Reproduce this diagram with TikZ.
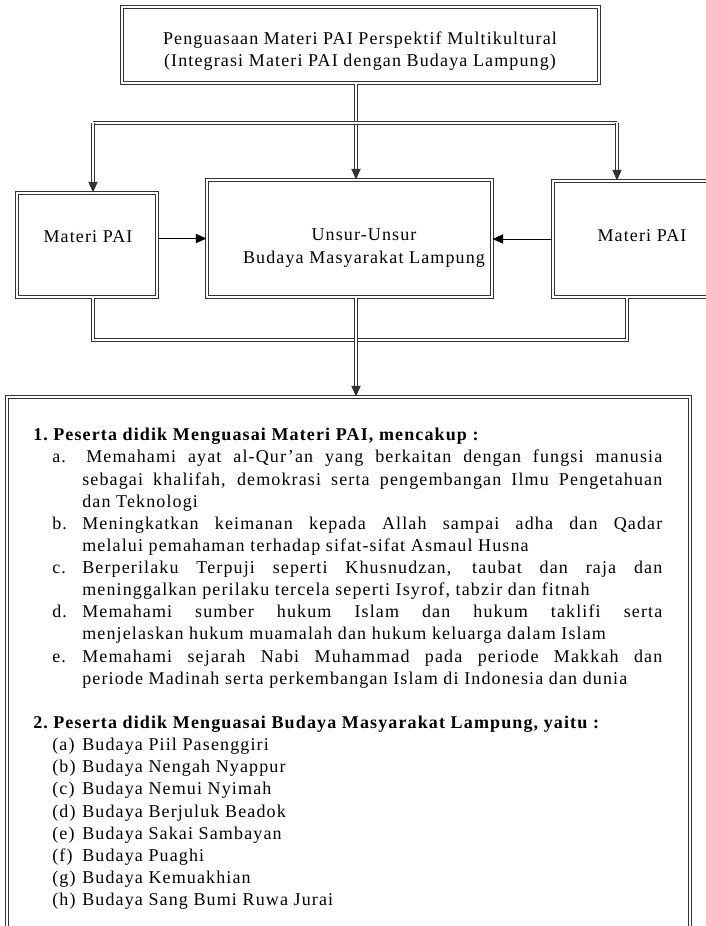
\documentclass[tikz,border=0pt]{standalone}
\usepackage{fontspec}
\setmainfont{Liberation Serif}[LetterSpace=6.3]
\usetikzlibrary{arrows.meta,calc}

\newcommand{\butir}[2]{\par\hangindent=36.75pt\hangafter=1\noindent\hspace*{14.25pt}\makebox[22.5pt][l]{#1}#2\par}

\tikzset{
  kotak/.style={draw=black!80, line width=0.85pt, double, double distance=0.9pt, inner sep=0pt},
  jalur/.style={draw=black!80, line width=0.6pt, double, double distance=1.1pt},
  panah/.style={-{Triangle[width=7pt,length=8pt]}},
  teks/.style={font=\fontsize{13.5}{16.6}\selectfont, align=center, inner sep=0pt}
}

\begin{document}
\begin{tikzpicture}[x=0.75pt,y=-0.75pt]
\useasboundingbox (0,0) rectangle (706,926);

\node[kotak, minimum width=357.75pt, minimum height=57pt] (atas) at (360.5,45) {};
\node[kotak, minimum width=105pt, minimum height=78pt] (kiri) at (87,245) {};
\node[kotak, minimum width=213.75pt, minimum height=87.75pt] (tengah) at (349.5,238.5) {};
\node[kotak, minimum width=133.5pt, minimum height=87pt] (kanan) at (642,239) {};
\node[kotak, minimum width=512.25pt, minimum height=424.5pt] (bawah) at (348.5,680) {};

\node[teks] (judul) at (360,51) {Penguasaan Materi PAI Perspektif Multikultural\\(Integrasi Materi PAI dengan Budaya Lampung)};
\node[teks] (teksKiri) at (88,237) {Materi PAI};
\node[teks] (teksTengah) at (364,248) {Unsur-Unsur\\Budaya Masyarakat Lampung};
\node[teks] (teksKanan) at (642,236) {Materi PAI};

\coordinate (poros) at (356,123);
\coordinate (cabangKiri) at (93,123);
\coordinate (cabangKanan) at (617,123);
\coordinate (bawahKiri) at (93,340);
\coordinate (bawahKanan) at (627,340);

\draw[jalur, panah] (atas.south -| poros) -- (poros |- tengah.north);
\draw[jalur] (cabangKiri) -- (cabangKanan);
\draw[jalur, panah] (cabangKiri) -- (cabangKiri |- kiri.north);
\draw[jalur, panah] (cabangKanan) -- (cabangKanan |- kanan.north);

\draw[panah] (kiri.east |- tengah.west) -- (tengah.west);
\draw[panah] (kanan.west) -- (tengah.east |- kanan.west);

\draw[jalur] (bawahKiri |- kiri.south) -- (bawahKiri) -- (bawahKanan) -- (bawahKanan |- kanan.south);
\draw[jalur, panah] (tengah.south -| poros) -- (poros |- bawah.north);

\node[teks, align=justify, text width=471.75pt, anchor=north west] (isi) at (33,428) {%
\noindent\textbf{\makebox[15pt][l]{1.}Peserta didik Menguasai Materi PAI, mencakup :}
\butir{a.}{\hspace*{3pt}Memahami ayat al-Qur'an yang berkaitan dengan fungsi manusia\linebreak sebagai khalifah, demokrasi serta pengembangan Ilmu Pengetahuan\linebreak dan Teknologi}
\butir{b.}{Meningkatkan keimanan kepada Allah sampai adha dan Qadar\linebreak melalui pemahaman terhadap sifat-sifat Asmaul Husna}
\butir{c.}{Berperilaku Terpuji seperti Khusnudzan, taubat dan raja dan\linebreak meninggalkan perilaku tercela seperti Isyrof, tabzir dan fitnah}
\butir{d.}{Memahami sumber hukum Islam dan hukum taklifi serta\linebreak menjelaskan hukum muamalah dan hukum keluarga dalam Islam}
\butir{e.}{Memahami sejarah Nabi Muhammad pada periode Makkah dan\linebreak periode Madinah serta perkembangan Islam di Indonesia dan dunia}
\vspace{16.6pt}
\noindent\textbf{\makebox[15pt][l]{2.}Peserta didik Menguasai Budaya Masyarakat Lampung, yaitu :}
\butir{(a)}{Budaya Piil Pasenggiri}
\butir{(b)}{Budaya Nengah Nyappur}
\butir{(c)}{Budaya Nemui Nyimah}
\butir{(d)}{Budaya Berjuluk Beadok}
\butir{(e)}{Budaya Sakai Sambayan}
\butir{(f)}{Budaya Puaghi}
\butir{(g)}{Budaya Kemuakhian}
\butir{(h)}{Budaya Sang Bumi Ruwa Jurai}};

\end{tikzpicture}
\end{document}
